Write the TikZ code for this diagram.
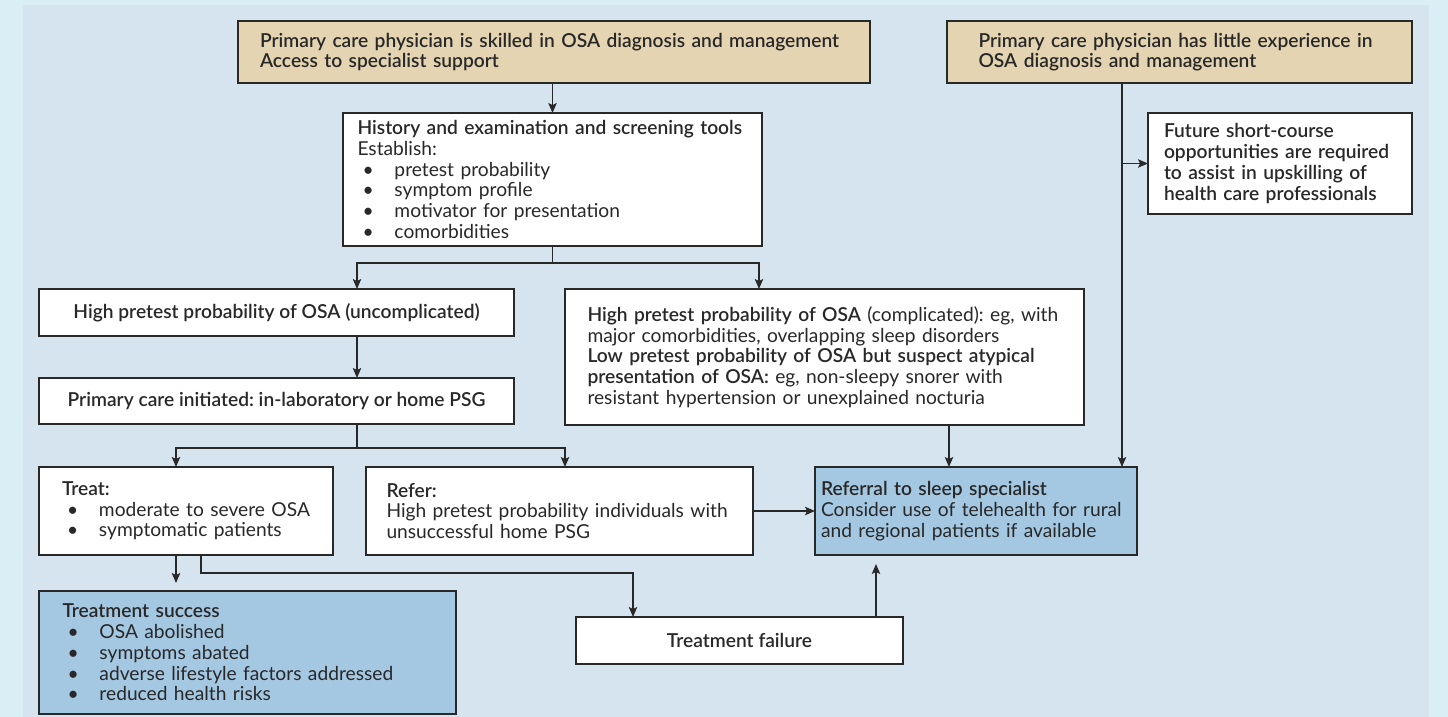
\documentclass[tikz,border=0pt]{standalone}
\usepackage{fontspec}
\setmainfont{Lato}
\newfontfamily\medf{Lato Semibold}
\usetikzlibrary{arrows.meta}
\definecolor{outer}{RGB}{218,238,245}
\definecolor{panel}{RGB}{214,228,240}
\definecolor{tanbox}{RGB}{228,212,178}
\definecolor{bluebox}{RGB}{164,199,226}
\definecolor{ink}{RGB}{40,40,40}
\newcommand{\bl}{\makebox[18.5pt][l]{\hspace{2.5pt}\textbullet}}
\frenchspacing
\hyphenpenalty=10000

\begin{document}
\begin{tikzpicture}[x=0.5pt,y=-0.5pt]
\tikzstyle{box}=[draw=ink, fill=white, line width=0.65pt, inner sep=0pt, outer sep=0pt, anchor=north west, align=left, text=ink, font=\fontsize{9.6}{10.35}\selectfont]
\tikzstyle{cbox}=[box, align=center]
\tikzstyle{arr}=[draw=ink, line width=0.6pt, -{Stealth[length=5pt,width=4.2pt,inset=1pt]}]
\tikzstyle{wire}=[draw=ink, line width=0.6pt]

\useasboundingbox (0,0) rectangle (1448,717);
\fill[outer] (0,0) rectangle (1448,717);
\fill[panel] (23,5) rectangle (1429,717);

\node[box, fill=tanbox, minimum width=316pt, minimum height=31pt, text width=294pt] (skilled) at (238,21)
  {\medf Primary care physician is skilled in OSA diagnosis and management\\Access to specialist support};
\node[box, fill=tanbox, minimum width=232.5pt, minimum height=31pt, text width=201pt] (little) at (947,21)
  {\medf Primary care physician has little experience in\\OSA diagnosis and management};
\node[box, minimum width=132pt, minimum height=50.5pt, text width=116pt] (future) at (1148,113)
  {\medf Future short-course\\opportunities are required\\to assist in upskilling of\\health care professionals};
\node[box, minimum width=209.5pt, minimum height=66.5pt, text width=195pt] (hist) at (343,113)
  {{\medf History and examination and screening tools}\\Establish:\\
   \bl pretest probability\\\bl symptom profile\\\bl motivator for presentation\\\bl comorbidities};
\node[cbox, minimum width=237.5pt, minimum height=23.5pt] (unc) at (39,289)
  {\medf High pretest probability of OSA (uncomplicated)};
\node[box, minimum width=259.5pt, minimum height=68pt, text width=237pt] (comp) at (565,289)
  {{\medf High pretest probability of OSA} (complicated): eg, with\\major comorbidities, overlapping sleep disorders\\
   {\medf Low pretest probability of OSA but suspect atypical}\\{\medf presentation of OSA:} eg, non-sleepy snorer with\\
   resistant hypertension or unexplained nocturia};
\node[cbox, minimum width=237.5pt, minimum height=23pt] (init) at (39,378)
  {\medf Primary care initiated: in-laboratory or home PSG};
\node[box, minimum width=147pt, minimum height=44pt, text width=124pt] (treat) at (39,467)
  {{\medf Treat:}\\\bl moderate to severe OSA\\\bl symptomatic patients};
\node[box, minimum width=193.5pt, minimum height=44pt, text width=173pt] (refer) at (366,467)
  {{\medf Refer:}\\High pretest probability individuals with\\unsuccessful home PSG};
\node[box, fill=bluebox, minimum width=161pt, minimum height=44pt, text width=155pt] (spec) at (815,467)
  {{\medf Referral to sleep specialist}\\Consider use of telehealth for rural\\and regional patients if available};
\node[box, fill=bluebox, minimum width=208.5pt, minimum height=61.5pt, text width=185pt] (succ) at (39,591)
  {{\medf Treatment success}\\\bl OSA abolished\\\bl symptoms abated\\\bl adverse lifestyle factors addressed\\\bl reduced health risks};
\node[cbox, minimum width=163.5pt, minimum height=23.5pt] (fail) at (576,617)
  {\medf Treatment failure};

\coordinate (colA) at (357,0);
\coordinate (colB) at (759,0);
\coordinate (colC) at (176,0);
\coordinate (colD) at (565,0);
\coordinate (colE) at (201,0);
\coordinate (colF) at (633,0);
\coordinate (colG) at (949,0);
\coordinate (colH) at (1122,0);
\coordinate (colI) at (876,0);

\draw[arr] (skilled.south -| hist.north) -- (hist.north);
\draw[wire] (hist.south) -- ++(0,17) coordinate (j1);
\draw[arr] (j1) -| (colA |- unc.north);
\draw[arr] (j1) -| (colB |- comp.north);
\draw[arr] (colA |- unc.south) -- (colA |- init.north);
\draw[wire] (colA |- init.south) -- ++(0,24) coordinate (j2);
\draw[arr] (j2) -| (colC |- treat.north);
\draw[arr] (j2) -| (colD |- refer.north);
\draw[arr, shorten >=4pt] (colC |- treat.south) -- (colC |- succ.north);
\draw[arr] (colE |- treat.south) -- ++(0,18) -| (colF |- fail.north);
\draw[arr] (refer.east) -- (spec.west);
\draw[arr] (colG |- comp.south) -- (colG |- spec.north);
\draw[arr] (colH |- little.south) -- (colH |- spec.north);
\draw[arr] (colH |- future.west) -- (future.west);
\draw[arr, shorten >=4.5pt] (colI |- fail.north) -- (colI |- spec.south);

\end{tikzpicture}
\end{document}
